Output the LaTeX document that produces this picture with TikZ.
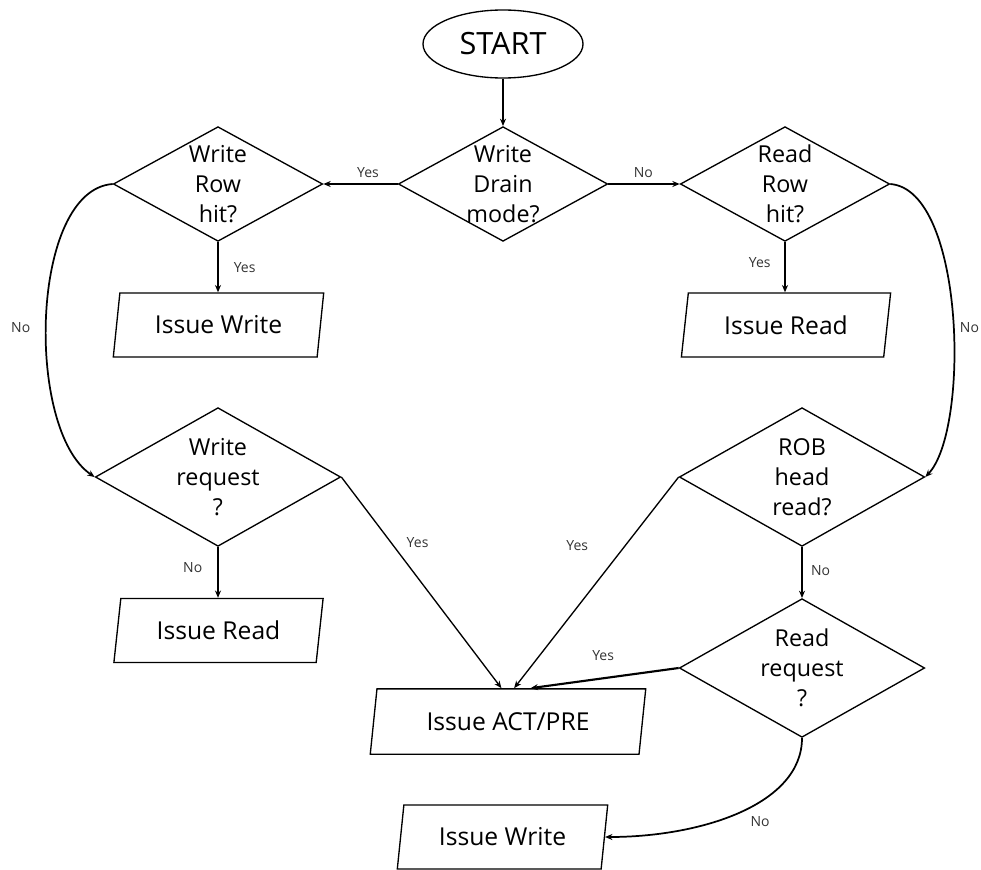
\documentclass[tikz,border=0pt]{standalone}
\usepackage{fontspec}
\setmainfont{Open Sans}
\usetikzlibrary{shapes.geometric,arrows.meta,calc}
\begin{document}
\begin{tikzpicture}[x=0.75pt,y=-0.75pt,
  line width=1pt,
  >={Stealth[length=5.5pt,width=4.5pt]},
  terminal/.style={draw,ellipse,inner sep=0pt,minimum width=120pt,minimum height=51pt,
    font=\fontsize{23}{26}\selectfont},
  decision/.style={draw,diamond,inner sep=0pt},
  dsmall/.style={decision,minimum width=157pt,minimum height=86pt},
  dlarge/.style={decision,minimum width=184pt,minimum height=104pt},
  dtext/.style={align=center,font=\fontsize{17.5}{22.5}\selectfont},
  io/.style={draw,trapezium,trapezium left angle=77,trapezium right angle=103,
    trapezium stretches=true,inner sep=0pt,minimum width=158pt,minimum height=48pt,
    font=\fontsize{18.5}{22}\selectfont},
  flow/.style={->},
  curveflow/.style={->,line width=1.3pt},
  thickflow/.style={->,line width=1.6pt},
  lbl/.style={font=\fontsize{10.5}{12}\selectfont,text=black!80},
]
\useasboundingbox (0,0) rectangle (981,870);

% terminal and decisions
\node[terminal] (start) at (503,44) {START};
\node[dsmall,label={[dtext,name=t1]center:Write\\Drain\\mode?}] (drain) at (503,184) {};
\node[dsmall,label={[dtext,name=t2]center:Write\\Row\\hit?}] (wrow) at (218,184) {};
\node[dsmall,label={[dtext,name=t3]center:Read\\Row\\hit?}] (rrow) at (785,184) {};
\node[dlarge,label={[dtext,name=t4]center:Write\\request\\?}] (wreq) at (218,477) {};
\node[dlarge,label={[dtext,name=t5]center:ROB\\head\\read?}] (rob) at (802,477) {};
\node[dlarge,label={[dtext,name=t6]center:Read\\request\\?}] (rreq) at (802,668) {};

% actions
\node[io] (iwA) at (218.5,325) {Issue Write};
\node[io] (irA) at (786,325) {Issue Read};
\node[io] (irB) at (218.5,630.5) {Issue Read};
\node[io,minimum width=207pt,minimum height=49pt] (act) at (508,721.5) {Issue ACT/PRE};
\node[io] (iwB) at (502.5,837) {Issue Write};

% connectors
\draw[flow] (start) -- (drain);
\draw[thickflow] (drain.west) -- node[lbl,pos=0.4,above=1pt] (l1) {Yes} (wrow.east);
\draw[thickflow] (drain.east) -- node[lbl,pos=0.49,above=1pt] (l2) {No} (rrow.west);
\draw[flow] (wrow.south) -- node[lbl,pos=0.5,right=8pt] (l3) {Yes} (wrow.south |- iwA.north);
\draw[flow] (rrow.south) -- node[lbl,pos=0.4,left=7pt] (l4) {Yes} (rrow.south |- irA.north);
\draw[curveflow] (wrow.west) .. controls (30,190) and (25,430) ..
  node[lbl,pos=0.53,left=8pt] (l5) {No} (wreq.west);
\draw[curveflow] (rrow.east) .. controls (965,190) and (970,430) ..
  node[lbl,pos=0.53,right=1pt] (l6) {No} (rob.east);
\draw[flow] (wreq.south) -- node[lbl,pos=0.41,left=8pt] (l7) {No} (wreq.south |- irB.north);
\draw[flow] (wreq.east) -- node[lbl,pos=0.31,right=8pt] (l8) {Yes}
  ($(act.top left corner)!0.463!(act.top right corner)$);
\draw[flow] (rob.west) -- node[lbl,pos=0.325,left=24pt] (l9) {Yes}
  ($(act.top left corner)!0.51!(act.top right corner)$);
\draw[flow] (rob.south) -- node[lbl,pos=0.46,right=3pt] (l10) {No} (rreq.north);
\draw[thickflow] (rreq.west) -- node[lbl,pos=0.51,above=9pt] (l11) {Yes}
  ($(act.top left corner)!0.571!(act.top right corner)$);
\draw[curveflow] (rreq.south) .. controls (802,805) and (700,837) ..
  node[lbl,pos=0.4,below=7pt] (l12) {No} (iwB.right side);
\end{tikzpicture}
\end{document}
